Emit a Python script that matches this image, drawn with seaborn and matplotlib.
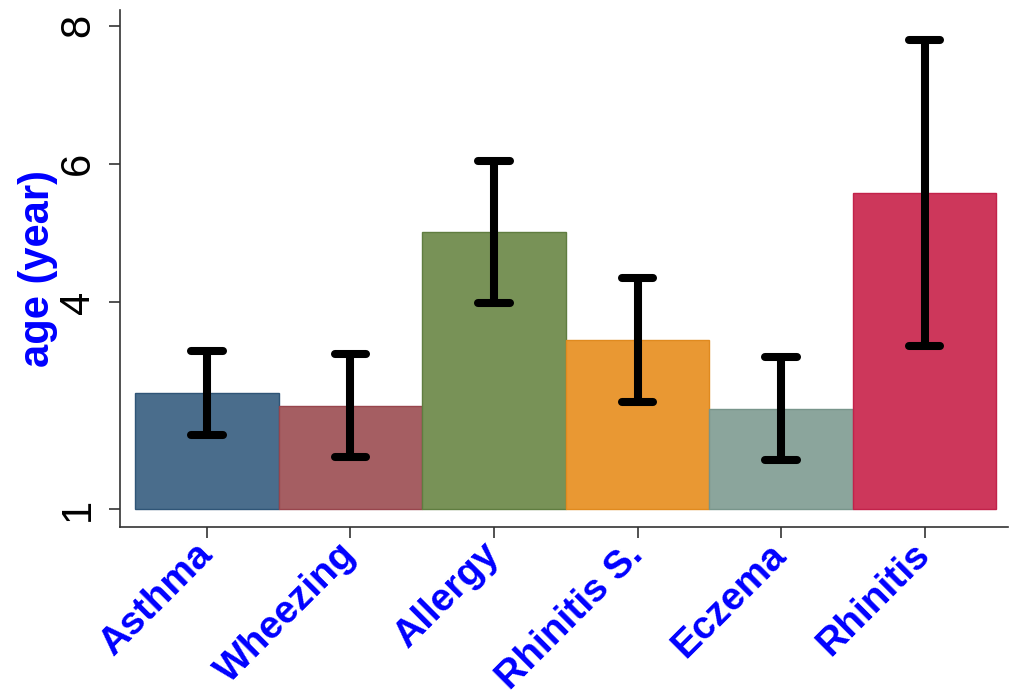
import matplotlib
matplotlib.use("Agg")
import matplotlib.pyplot as plt
import seaborn as sns
import pandas as pd
import numpy as np

# Mean age of onset per condition, with lower / upper confidence limits
conditions = ["Asthma", "Wheezing", "Allergy", "Rhinitis S.", "Eczema", "Rhinitis"]
mean_age = [2.68, 2.49, 5.01, 3.45, 2.45, 5.58]
ci_low = [2.07, 1.75, 3.99, 2.55, 1.71, 3.36]
ci_high = [3.29, 3.25, 6.04, 4.35, 3.20, 7.80]

bar_colors = ["#4a6d8c", "#a55e62", "#789257", "#e99833", "#8ba59c", "#cd375b"]
edge_colors = ["#2f5577", "#98454d", "#5f7d40", "#e08a1f", "#78958b", "#c2224a"]
baseline = 1.0

sns.set_theme(style="ticks")
plt.rcParams["font.family"] = ["Liberation Sans", "DejaVu Sans"]

df = pd.DataFrame({"condition": conditions, "age": mean_age})

fig = plt.figure(figsize=(10.13, 6.99), dpi=100)
ax = fig.add_axes([0.1185, 0.246, 0.8765, 0.74])

sns.barplot(data=df, x="condition", y="age", hue="condition",
            palette=bar_colors, saturation=1, width=1.0, errorbar=None,
            legend=False, linewidth=1, ax=ax)

# bars rise from the axis baseline of 1 year
for patch, val, ec in zip(ax.patches, mean_age, edge_colors):
    patch.set_y(baseline)
    patch.set_height(val - baseline)
    patch.set_edgecolor(ec)

xpos = np.arange(len(conditions))
err_lw = 5.8
ax.vlines(xpos, ci_low, ci_high, color="black", linewidth=err_lw, zorder=3)
cap_half = 0.11
for ends in (ci_low, ci_high):
    ax.hlines(ends, xpos - cap_half, xpos + cap_half, color="black",
              linewidth=err_lw, capstyle="round", zorder=3)

ax.set_xlim(-0.605, 5.58)
ax.set_ylim(0.739, 8.232)
ax.set_yticks([1, 4, 6, 8])
ax.set_yticklabels(["1", "4", "6", "8"], rotation=90, va="center",
                   fontsize=30, color="black")
ax.set_xlabel("")
ax.set_ylabel("age (year)", fontsize=30, fontweight="bold", color="blue",
              labelpad=0)
ax.set_xticks(xpos)
# slanted labels hang from the tick marks by their middle-right point
ax.set_xticklabels(conditions, rotation=45, ha="right", va="center",
                   rotation_mode="anchor", fontsize=28, fontweight="bold",
                   color="blue")

for side in ["top", "right"]:
    ax.spines[side].set_visible(False)
for side in ["left", "bottom"]:
    ax.spines[side].set_color("#333333")
    ax.spines[side].set_linewidth(1.2)
ax.tick_params(axis="both", length=8, width=1.2, color="#333333")
ax.tick_params(axis="x", pad=8)
ax.tick_params(axis="y", pad=8)

fig.savefig("out.png", dpi=100, facecolor="white")
